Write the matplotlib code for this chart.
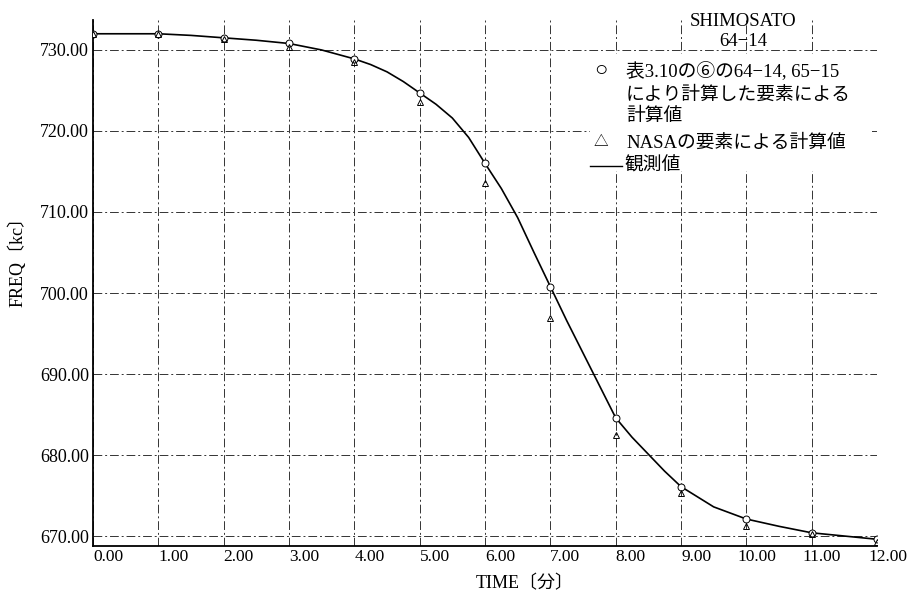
import numpy as np
import matplotlib.pyplot as plt
import matplotlib.transforms as mtransforms
from matplotlib.lines import Line2D
from matplotlib.patches import Rectangle

plt.rcParams['font.family'] = ['Liberation Serif', 'Noto Sans CJK JP']

t_obs = [0.0, 0.5, 1.0, 1.5, 2.0, 2.5, 3.0, 3.5, 4.0, 4.25, 4.5, 4.75,
         5.0, 5.25, 5.5, 5.75, 6.0, 6.25, 6.5, 6.75, 7.0, 7.25, 7.5, 7.75,
         8.0, 8.25, 8.5, 8.75, 9.0, 9.5, 10.0, 10.5, 11.0, 11.5, 12.0]
f_obs = [732.0, 732.0, 732.0, 731.8, 731.5, 731.2, 730.8, 730.0, 728.9,
         728.2, 727.3, 726.1, 724.7, 723.3, 721.6, 719.2, 716.0, 712.9,
         709.3, 705.0, 700.8, 696.6, 692.6, 688.6, 684.6, 682.2, 680.1,
         678.0, 676.1, 673.6, 672.1, 671.2, 670.4, 670.0, 669.6]

# calculated with elements from table 3.10 (circles)
t_pts = [0, 1, 2, 3, 4, 5, 6, 7, 8, 9, 10, 11, 12]
f_circle = [732.0, 732.0, 731.5, 730.8, 728.9, 724.7, 716.0, 700.8, 684.6,
            676.1, 672.1, 670.4, 669.6]
# calculated with NASA elements (triangles)
f_nasa = [732.0, 732.0, 731.4, 730.4, 728.5, 723.6, 713.6, 696.9, 682.5,
          675.3, 671.2, 670.2, 669.3]

xticks = [0, 1, 2, 3, 4, 5, 6, 7, 8, 9, 10, 11, 12]
yticks = [670, 680, 690, 700, 710, 720, 730]

W, H = 909, 594
fig = plt.figure(figsize=(W / 100, H / 100), dpi=100)
ax = fig.add_axes([93 / W, 1 - 546 / H, 784 / W, 526 / H])

ax.plot(t_obs, f_obs, color='black', lw=1.2, zorder=3)
ax.plot(t_pts, f_circle, 'o', ms=5, mfc='white', mec='black', mew=0.7,
        zorder=4)
ax.plot(t_pts, f_nasa, '^', ms=5, mfc='none', mec='black', mew=0.7,
        zorder=4)

ax.set_xlim(0, 12)
ax.set_ylim(668.77, 733.7)
ax.set_xticks(xticks)
ax.set_xticklabels([])
ax.set_yticks(yticks)
ax.set_yticklabels([f"{v:.2f}" for v in yticks])
ax.tick_params(length=0, labelsize=13, pad=3)

# x tick labels sit to the right of their tick
for v in xticks:
    lab = f"{v:.2f}"
    dx = -9 if v >= 10 else 0
    tr = ax.get_xaxis_transform() + mtransforms.ScaledTranslation(
        dx / 100, -3 / 100, fig.dpi_scale_trans)
    ax.text(v, 0, lab, transform=tr, ha='left', va='top', fontsize=12.5)

ax.grid(True, color='#333333', lw=0.7, dashes=(9, 3, 2, 3))

for side in ['top', 'right']:
    ax.spines[side].set_visible(False)
ax.spines['left'].set_linewidth(1.3)
ax.spines['bottom'].set_linewidth(1.3)

ax.set_xlabel("TIME〔分〕", fontsize=13)
ax.xaxis.set_label_coords(0.551, -0.055)
ax.set_ylabel("FREQ〔kc〕", fontsize=13)
ax.yaxis.set_label_coords(-0.085, 0.548)

# legend block, drawn like the printed one
ax.add_patch(Rectangle((0.634, 0.712), 0.36, 0.224, transform=ax.transAxes,
                       facecolor='white', edgecolor='none', zorder=2.5))

fs = 13.5
fig.text(743 / W, 1 - 21 / H, "SHIMOSATO", ha='center', va='center',
         fontsize=fs)
fig.text(743 / W, 1 - 41 / H, "64−14", ha='center', va='center',
         fontsize=fs)

fig.text(601 / W, 1 - 72 / H, "○", ha='center', va='center', fontsize=16)
fig.text(626 / W, 1 - 72 / H, "表3.10の⑥の64−14, 65−15", ha='left',
         va='center', fontsize=fs)
fig.text(626 / W, 1 - 95 / H, "により計算した要素による", ha='left',
         va='center', fontsize=fs)
fig.text(626 / W, 1 - 116 / H, "計算値", ha='left', va='center', fontsize=fs)
fig.text(601 / W, 1 - 143 / H, "△", ha='center', va='center', fontsize=10.5)
fig.text(626 / W, 1 - 143 / H, "NASAの要素による計算値", ha='left',
         va='center', fontsize=fs)
fig.lines.append(Line2D([590 / W, 622 / W], [1 - 166 / H, 1 - 166 / H],
                        color='black', lw=1.0, transform=fig.transFigure))
fig.text(624 / W, 1 - 166 / H, "観測値", ha='left', va='center', fontsize=fs)

fig.savefig("out.png", dpi=100)
